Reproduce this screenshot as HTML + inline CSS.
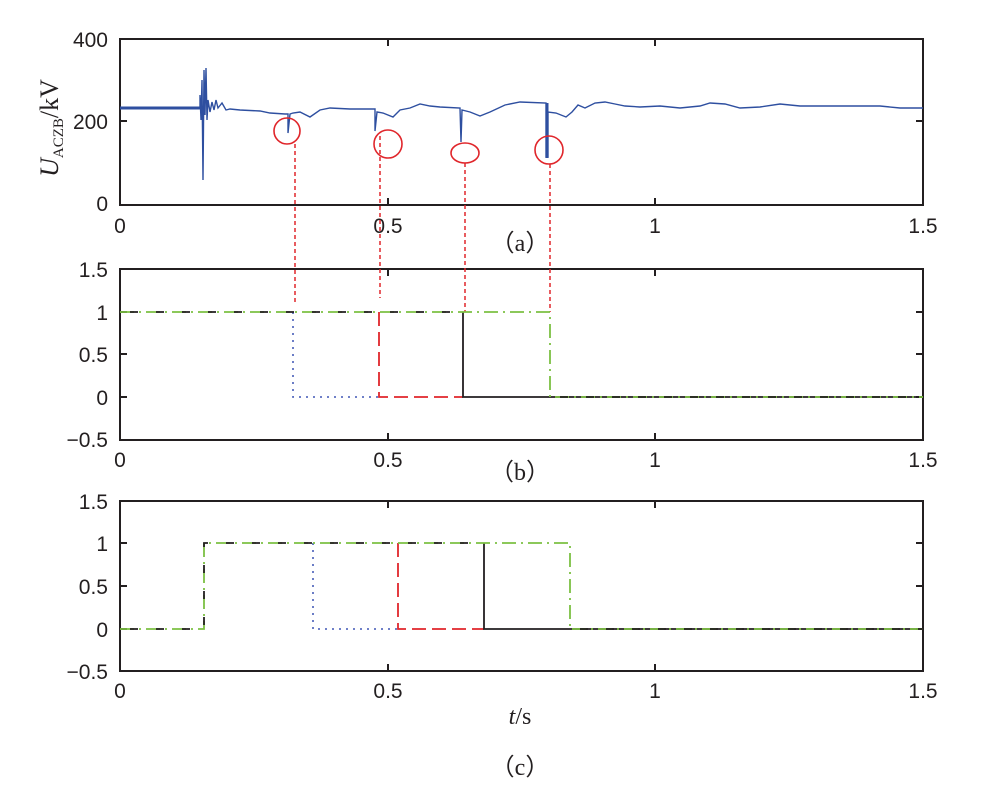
<!DOCTYPE html>
<html><head><meta charset="utf-8"><style>body{margin:0;background:#fff}svg{display:block}text{font-family:"Liberation Serif",serif;fill:#231f20}.s{font-family:"Liberation Sans",sans-serif}</style></head><body>
<svg width="981" height="795" xmlns="http://www.w3.org/2000/svg">
<g fill="none" stroke="#231f20" stroke-width="2">
<rect x="120" y="39" width="803" height="166"/>
<rect x="120" y="269" width="803" height="171"/>
<rect x="120" y="501" width="803" height="170"/>
</g>
<g stroke="#231f20" stroke-width="2">
<line x1="388" y1="39" x2="388" y2="46"/><line x1="388" y1="205" x2="388" y2="198"/>
<line x1="655" y1="39" x2="655" y2="46"/><line x1="655" y1="205" x2="655" y2="198"/>
<line x1="120" y1="121" x2="127" y2="121"/><line x1="923" y1="121" x2="916" y2="121"/>
<line x1="388" y1="269" x2="388" y2="276"/><line x1="388" y1="440" x2="388" y2="433"/>
<line x1="655" y1="269" x2="655" y2="276"/><line x1="655" y1="440" x2="655" y2="433"/>
<line x1="120" y1="312" x2="127" y2="312"/><line x1="923" y1="312" x2="916" y2="312"/>
<line x1="120" y1="354" x2="127" y2="354"/><line x1="923" y1="354" x2="916" y2="354"/>
<line x1="120" y1="397" x2="127" y2="397"/><line x1="923" y1="397" x2="916" y2="397"/>
<line x1="388" y1="501" x2="388" y2="508"/><line x1="388" y1="671" x2="388" y2="664"/>
<line x1="655" y1="501" x2="655" y2="508"/><line x1="655" y1="671" x2="655" y2="664"/>
<line x1="120" y1="543" x2="127" y2="543"/><line x1="923" y1="543" x2="916" y2="543"/>
<line x1="120" y1="586" x2="127" y2="586"/><line x1="923" y1="586" x2="916" y2="586"/>
<line x1="120" y1="629" x2="127" y2="629"/><line x1="923" y1="629" x2="916" y2="629"/>
</g>
<g font-size="21" text-anchor="end" class="s">
<text class="s" x="108" y="47">400</text><text class="s" x="108" y="129">200</text><text class="s" x="108" y="211">0</text>
<text class="s" x="108" y="277">1.5</text><text class="s" x="108" y="320">1</text><text class="s" x="108" y="362">0.5</text><text class="s" x="108" y="405">0</text><text class="s" x="108" y="447">−0.5</text>
<text class="s" x="108" y="509">1.5</text><text class="s" x="108" y="551">1</text><text class="s" x="108" y="594">0.5</text><text class="s" x="108" y="637">0</text><text class="s" x="108" y="679">−0.5</text>
</g>
<g font-size="21" text-anchor="middle">
<text class="s" x="120" y="233">0</text><text class="s" x="388" y="233">0.5</text><text class="s" x="655" y="233">1</text><text class="s" x="923" y="233">1.5</text>
<text class="s" x="120" y="467">0</text><text class="s" x="388" y="467">0.5</text><text class="s" x="655" y="467">1</text><text class="s" x="923" y="467">1.5</text>
<text class="s" x="120" y="698">0</text><text class="s" x="388" y="698">0.5</text><text class="s" x="655" y="698">1</text><text class="s" x="923" y="698">1.5</text>
<text x="520" y="251" font-size="24">（a）</text><text x="520" y="480" font-size="24">（b）</text><text x="520" y="775" font-size="24">（c）</text>
<text x="520" y="724" font-size="24"><tspan font-style="italic">t</tspan>/s</text>
</g>
<text transform="translate(58,128) rotate(-90)" font-size="26" text-anchor="middle"><tspan font-style="italic">U</tspan><tspan font-size="15" dy="5">ACZB</tspan><tspan dy="-5">/kV</tspan></text>
<polyline fill="none" stroke="#2e4fa0" stroke-width="1.4" points="120,108 150,108 180,108 200,108 200,95 201,120 202,80 203,180 204,70 205,115 206,68 207,120 208,100 210,112 212,102 214,110 216,100 218,108 222,103 226,110 230,109 240,110 260,111 270,113 285,114 288,114 288,133 290,114 293,113 300,112 310,117 320,110 330,108 350,109 375,109 375,131 377,112 383,113 393,117 400,110 410,108 420,104 430,106 440,107 460,108 461,142 462,110 470,112 480,116 490,112 505,105 520,102 546,103 546,157 548,157 548,112 556,113 566,117 572,112 578,105 585,108 595,103 605,102 615,104 625,106 640,107 660,106 680,108 700,106 710,103 725,104 740,108 760,107 780,104 800,106 820,106 850,106 880,106 900,108 923,108"/>
<g fill="none" stroke="#2e4fa0" stroke-width="3"><line x1="120" y1="108" x2="200" y2="108"/><line x1="547" y1="103" x2="547" y2="158"/></g>
<g fill="none" stroke="#e0262b" stroke-width="1.6">
<circle cx="287" cy="131" r="13"/><circle cx="388" cy="144" r="14"/><ellipse cx="465" cy="153" rx="14" ry="10"/><circle cx="549" cy="150" r="14"/>
</g>
<g stroke="#e0262b" stroke-width="1.5" stroke-dasharray="4,3">
<line x1="295" y1="144" x2="295" y2="303"/><line x1="380" y1="136" x2="380" y2="298"/><line x1="465" y1="163" x2="465" y2="312"/><line x1="550" y1="164" x2="550" y2="312"/>
</g>
<g fill="none" stroke-width="1.8">
<polyline stroke="#5b6fc0" stroke-dasharray="2,5" points="293,312 293,397 380,397"/>
<polyline stroke="#e0262b" stroke-dasharray="14,6" points="379,312 379,397 463,397"/>
<polyline stroke="#231f20" points="463,312 463,397 923,397"/>
<polyline stroke="#7cc043" stroke-dasharray="14,5,2,5" points="120,312 550,312 550,397 923,397"/>
<line x1="120" y1="312" x2="463" y2="312" stroke="#231f20" stroke-dasharray="0,10,8,8"/>
<line x1="550" y1="397" x2="923" y2="397" stroke="#231f20" stroke-dasharray="0,10,8,8"/>
</g>
<g fill="none" stroke-width="1.8">
<polyline stroke="#5b6fc0" stroke-dasharray="2,5" points="313,543 313,629 398,629"/>
<polyline stroke="#e0262b" stroke-dasharray="14,6" points="398,543 398,629 484,629"/>
<polyline stroke="#231f20" points="484,543 484,629 923,629"/>
<polyline stroke="#7cc043" stroke-dasharray="14,5,2,5" points="120,629 204,629 204,543 570,543 570,629 923,629"/>
<polyline stroke="#231f20" stroke-dasharray="0,10,8,8" points="120,629 204,629 204,543 484,543"/>
<line x1="570" y1="629" x2="923" y2="629" stroke="#231f20" stroke-dasharray="0,10,8,8"/>
</g>
</svg>
</body></html>
